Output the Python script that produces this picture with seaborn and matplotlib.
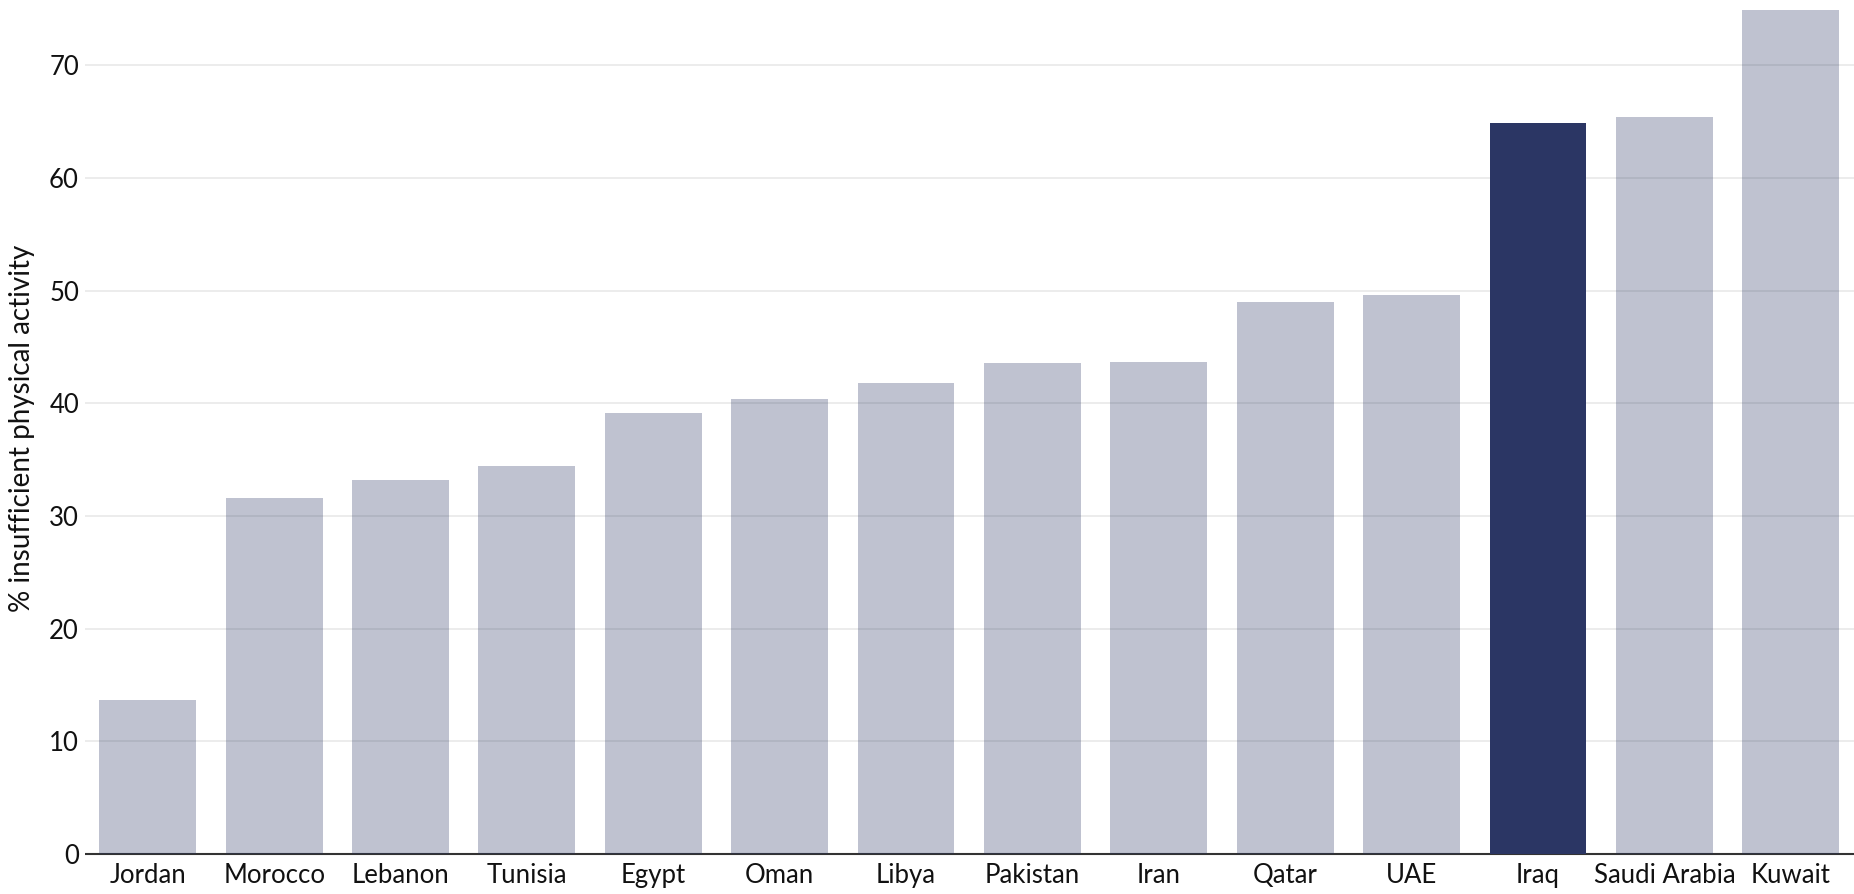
import matplotlib
matplotlib.use("Agg")
import matplotlib.pyplot as plt
import seaborn as sns
import pandas as pd

countries = ["Jordan", "Morocco", "Lebanon", "Tunisia", "Egypt", "Oman", "Libya",
             "Pakistan", "Iran", "Qatar", "UAE", "Iraq", "Saudi Arabia", "Kuwait"]
values = [13.7, 31.6, 33.2, 34.4, 39.1, 40.4, 41.8, 43.6, 43.7, 49.0, 49.6, 64.9, 65.4, 74.9]
highlight = "Iraq"
y_label = "% insufficient physical activity"
y_ticks = [0, 10, 20, 30, 40, 50, 60, 70]

sns.set_theme(style="white")
plt.rcParams['font.family'] = ['Lato', 'DejaVu Sans']

df = pd.DataFrame({"country": countries, "value": values})
df["group"] = ["hi" if c == highlight else "lo" for c in countries]

fig = plt.figure(figsize=(18.54, 8.94), dpi=100)
ax = fig.add_axes([0.0456, 0.041, 0.9544, 0.959])

base = "#2B3664"
sns.barplot(data=df, x="country", y="value", hue="group", order=countries,
            palette={"hi": base, "lo": base}, dodge=False, legend=False,
            saturation=1, width=0.766, ax=ax, zorder=3, linewidth=0)
for patch in ax.patches:
    if abs(patch.get_height() - values[countries.index(highlight)]) > 1e-9:
        patch.set_alpha(0.3)

ax.set_xlim(-0.5, len(countries) - 0.5)
ax.set_ylim(-0.3, 75.8)
ax.set_yticks(y_ticks)
ax.yaxis.grid(True, color="#EBEBEB", linewidth=1.3, zorder=0)
ax.set_axisbelow(True)
ax.axhline(0, color="#333333", linewidth=1.5, zorder=2)
for s in ax.spines.values():
    s.set_visible(False)
ax.tick_params(axis="both", length=0, labelsize=18.5, colors="#111111")
ax.tick_params(axis="y", pad=4)
ax.tick_params(axis="x", pad=4)
ax.set_xlabel("")
ax.set_ylabel(y_label, fontsize=20, color="#111111", labelpad=10)

fig.savefig("out.png", dpi=100)
